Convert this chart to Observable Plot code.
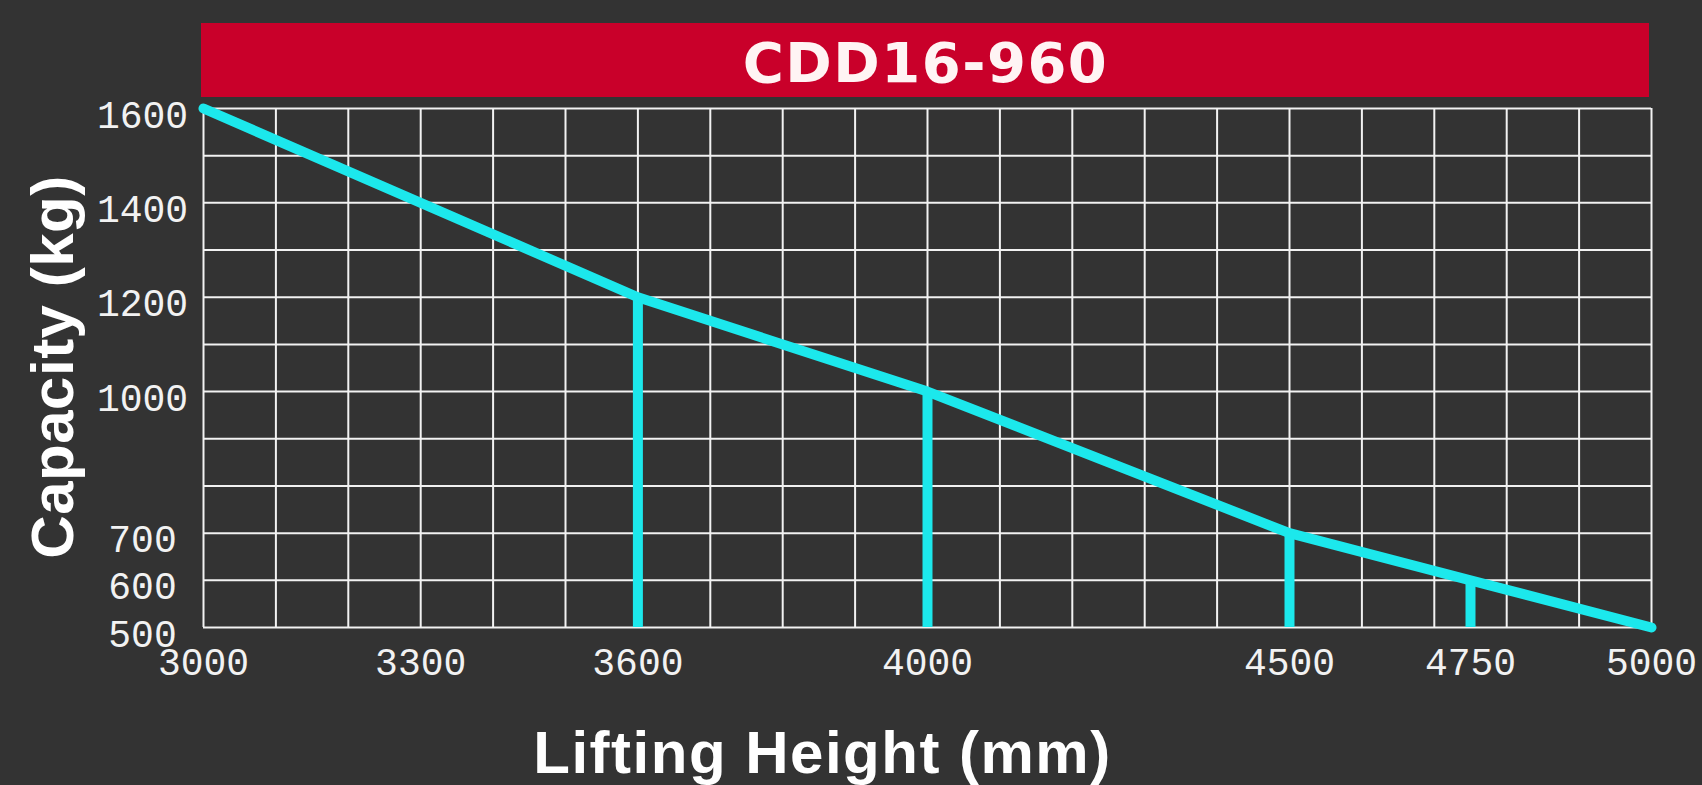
<!DOCTYPE html>
<html>
<head>
<meta charset="utf-8">
<script src="https://cdn.jsdelivr.net/npm/d3@7"></script>
<script src="https://cdn.jsdelivr.net/npm/@observablehq/plot@0.6"></script>
<style>
  html, body { margin: 0; padding: 0; background: #333333; overflow: hidden; }
</style>
</head>
<body>
<div id="chart"></div>
<script>
// ---- data ----
const chartTitle = "CDD16-960";
const xLabel = "Lifting Height (mm)";
const yLabel = "Capacity (kg)";
const heights = [3000, 3600, 4000, 4500, 4750, 5000];
const capacities = [1600, 1200, 1000, 700, 600, 500];
const dropHeights = [3600, 4000, 4500, 4750];
const dropCapacities = [1200, 1000, 700, 600];
const xTicks = [3000, 3300, 3600, 4000, 4500, 4750, 5000];
const yTicks = [500, 600, 700, 1000, 1200, 1400, 1600];
const xGrid = d3.range(3000, 5001, 100);
const yGrid = d3.range(500, 1601, 100);

const curveData = heights.map((h, i) => ({h, c: capacities[i]}));
const dropData = dropHeights.map((h, i) => ({h, c: dropCapacities[i]}));

const W = 1702, H = 785;
const CYAN = "#1ce8ec", RED = "#c9002a", BG = "#333333", GRID = "#f2f2f2", TXT = "#f2f2f2";
const MONO = "'Liberation Mono', 'DejaVu Sans Mono', monospace";
const SANS = "'Liberation Sans', Arial, sans-serif";

const plot = Plot.plot({
  width: W,
  height: H,
  marginLeft: 203,
  marginRight: 51,
  marginTop: 108,
  marginBottom: 158,
  style: {background: BG, color: TXT, overflow: "visible"},
  x: {domain: [3000, 5000]},
  y: {domain: [500, 1600]},
  marks: [
    Plot.ruleX(xGrid, {stroke: GRID, strokeWidth: 2}),
    Plot.ruleY(yGrid, {stroke: GRID, strokeWidth: 2}),
    Plot.axisX(xTicks, {
      tickSize: 0, tickPadding: 21, label: null,
      tickFormat: d => String(d),
      fontSize: 38, fontFamily: MONO, fill: TXT
    }),
    Plot.axisY(yTicks, {
      tickSize: 0, tickPadding: 61, label: null, textAnchor: "middle", dy: 7,
      tickFormat: d => String(d),
      fontSize: 38, fontFamily: MONO, fill: TXT
    }),
    Plot.ruleX(dropData, {x: "h", y1: 500, y2: "c", stroke: CYAN, strokeWidth: 10}),
    Plot.line(curveData, {x: "h", y: "c", curve: "linear", stroke: CYAN, strokeWidth: 10}),
    Plot.text([chartTitle], {
      frameAnchor: "top", lineAnchor: "bottom", dy: -27, dx: -2,
      fontSize: 56, fontWeight: "bold", fontFamily: "'DejaVu Sans', Verdana, sans-serif", fill: "#fff4f4"
    }),
    Plot.text([xLabel], {
      frameAnchor: "bottom", lineAnchor: "bottom", dy: 145, dx: -105,
      fontSize: 60, fontWeight: "bold", fontFamily: SANS, fill: "#ffffff"
    }),
    Plot.text([yLabel], {
      frameAnchor: "left", textAnchor: "middle", lineAnchor: "middle", rotate: -90, dx: -150, dy: -1,
      fontSize: 60, fontWeight: "bold", fontFamily: SANS, fill: "#ffffff"
    })
  ]
});

// red title band behind the title text
const svg = d3.select(plot);
const xs = plot.scale("x");
const x0 = xs.apply(3000) - 2, x1 = xs.apply(5000) - 2;
svg.insert("rect", ":first-child")
  .attr("x", x0).attr("y", 23)
  .attr("width", x1 - x0).attr("height", 74)
  .attr("fill", RED);
svg.selectAll("text").filter(function () { return this.textContent === chartTitle; })
  .style("letter-spacing", "1.5px");
svg.selectAll("text").filter(function () { return this.textContent === xLabel; })
  .style("letter-spacing", "1.5px");
svg.selectAll("text").filter(function () { return this.textContent === yLabel; })
  .style("letter-spacing", "0.5px");

document.getElementById("chart").appendChild(plot);
</script>
</body>
</html>
